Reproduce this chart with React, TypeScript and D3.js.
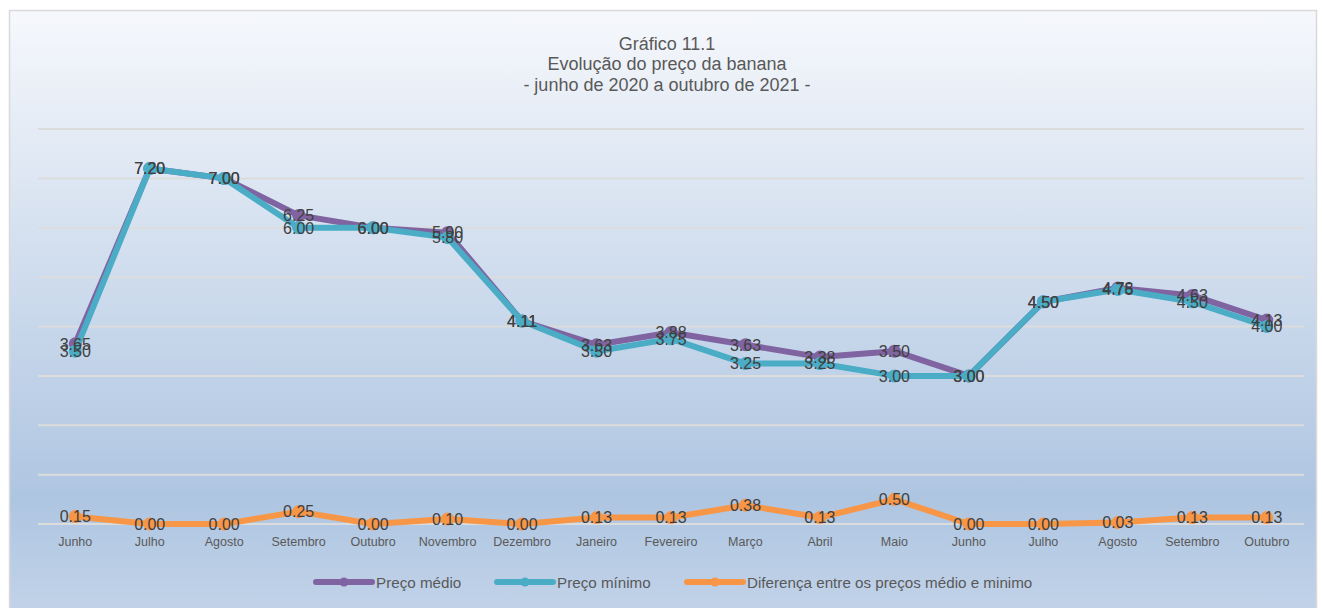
import React from "react";
import * as d3 from "d3";

const categories = ["Junho", "Julho", "Agosto", "Setembro", "Outubro", "Novembro", "Dezembro", "Janeiro", "Fevereiro", "Março", "Abril", "Maio", "Junho", "Julho", "Agosto", "Setembro", "Outubro"];
const precoMedio = [3.65, 7.2, 7.0, 6.25, 6.0, 5.9, 4.11, 3.63, 3.88, 3.63, 3.38, 3.5, 3.0, 4.5, 4.78, 4.63, 4.13];
const precoMinimo = [3.5, 7.2, 7.0, 6.0, 6.0, 5.8, 4.11, 3.5, 3.75, 3.25, 3.25, 3.0, 3.0, 4.5, 4.75, 4.5, 4.0];
const diferenca = [0.15, 0.0, 0.0, 0.25, 0.0, 0.1, 0.0, 0.13, 0.13, 0.38, 0.13, 0.5, 0.0, 0.0, 0.03, 0.13, 0.13];
const yTicks = [0, 1, 2, 3, 4, 5, 6, 7, 8];
const titleLines = ["Gráfico 11.1", "Evolução do preço da banana", "- junho de 2020 a outubro de 2021 -"];
const seriesNames = ["Preço médio", "Preço mínimo", "Diferença entre os preços médio e minimo"];

const W = 1322;
const H = 608;
const colors = ["#8064a2", "#4bacc6", "#f79646"];

export default function App() {
  const x = d3.scalePoint<number>().domain(d3.range(categories.length)).range([38, 1304]).padding(0.5);
  const y = d3.scaleLinear().domain([0, 8]).range([524, 129]);
  const line = d3
    .line<number>()
    .x((_, i) => x(i) as number)
    .y((d) => y(d));
  const series = [precoMedio, precoMinimo, diferenca];
  const legendX = [316, 497, 687];

  return (
    <svg width={W} height={H} style={{ position: "absolute", left: 0, top: 0 }}>
      <defs>
        <linearGradient id="bg" x1="0" y1="0" x2="0" y2="1">
          <stop offset="0%" stopColor="#f6f8fc" />
          <stop offset="80%" stopColor="#aec5e1" />
          <stop offset="100%" stopColor="#c3d4e9" />
        </linearGradient>
      </defs>
      <rect x={0} y={0} width={W} height={H} fill="#ffffff" />
      <rect x={9.5} y={10.5} width={1307} height={610} fill="url(#bg)" stroke="#d9d9d9" strokeWidth={1.5} />
      {titleLines.map((t, i) => (
        <text key={i} x={667} y={49.5 + i * 20.5} textAnchor="middle" fontFamily="'Liberation Sans', Arial, sans-serif" fontSize={18} fill="#595959">
          {t}
        </text>
      ))}
      {yTicks.map((t) => (
        <line key={t} x1={38} x2={1304} y1={y(t)} y2={y(t)} stroke="#dcdcdc" strokeWidth={2} />
      ))}
      {categories.map((c, i) => (
        <text key={i} x={x(i)} y={546} textAnchor="middle" fontFamily="'Liberation Sans', Arial, sans-serif" fontSize={12.5} fill="#595959">
          {c}
        </text>
      ))}
      {series.map((s, k) => (
        <g key={k}>
          <path d={line(s) || ""} fill="none" stroke={colors[k]} strokeWidth={6} strokeLinejoin="round" strokeLinecap="round" />
          {s.map((v, i) => (
            <circle key={i} cx={x(i)} cy={y(v)} r={6.5} fill={colors[k]} />
          ))}
        </g>
      ))}
      {series.map((s, k) => (
        <g key={"l" + k}>
          {s.map((v, i) => (
            <text key={i} x={x(i)} y={y(v)} dy="0.36em" textAnchor="middle" fontFamily="'Liberation Sans', Arial, sans-serif" fontSize={16} fill="#404040">
              {d3.format(".2f")(v)}
            </text>
          ))}
        </g>
      ))}
      {seriesNames.map((n, k) => (
        <g key={"lg" + k}>
          <line x1={legendX[k]} x2={legendX[k] + 56} y1={582} y2={582} stroke={colors[k]} strokeWidth={6} strokeLinecap="round" />
          <circle cx={legendX[k] + 28} cy={582} r={4.5} fill={colors[k]} />
          <text x={legendX[k] + 60} y={587.5} fontFamily="'Liberation Sans', Arial, sans-serif" fontSize={15.2} fill="#595959">
            {n}
          </text>
        </g>
      ))}
    </svg>
  );
}
